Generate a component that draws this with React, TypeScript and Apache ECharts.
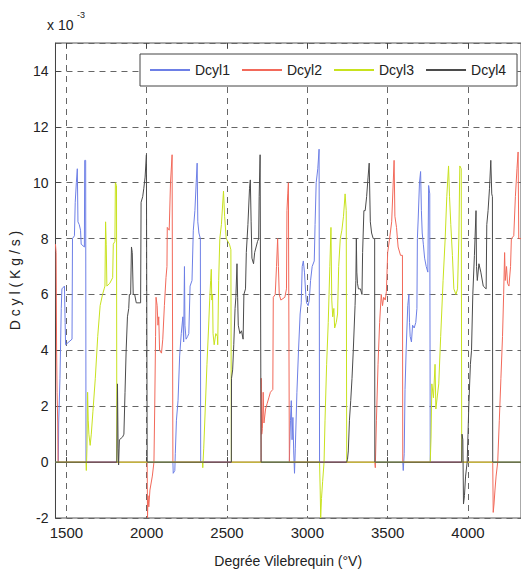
import React, { useEffect, useRef } from "react";
import * as echarts from "echarts";

const X_MIN = 1432;
const X_MAX = 4330;
const xTicks = [1500, 2000, 2500, 3000, 3500, 4000];
const seriesNames = ["Dcyl1", "Dcyl2", "Dcyl3", "Dcyl4"];

// Dcyl1 (blue)
const dcyl1A: number[][] = [[1432,0],[1450,0],[1452,1.4],[1460,3.0],[1468,5.5],[1472,6.2],[1488,6.3],[1492,5.0],[1495,4.2],[1535,4.4],[1538,8.0],[1550,8.1],[1555,9.3],[1562,10.0],[1568,10.5],[1572,8.6],[1580,8.5],[1588,8.3],[1592,7.8],[1612,7.7],[1614,10.8],[1620,10.8],[1622,0]];
const dcyl1B: number[][] = [[2163,0],[2165,-0.4],[2175,-0.3],[2178,0.3],[2185,1.5],[2195,2.2],[2205,3.8],[2215,4.6],[2225,5.2],[2230,4.3],[2235,7.0],[2238,4.9],[2245,4.4],[2255,4.5],[2262,4.6],[2270,6.3],[2282,6.5],[2290,8.3],[2300,9.0],[2308,10.0],[2314,10.7],[2318,8.6],[2325,8.2],[2334,8.0],[2336,0]];
const dcyl1C: number[][] = [[2888,0],[2890,0.5],[2895,1.5],[2900,2.2],[2905,0.8],[2910,1.6],[2915,0.4],[2920,-0.4],[2925,0.5],[2935,2.5],[2945,4.0],[2955,5.3],[2962,5.7],[2968,7.0],[2975,7.2],[2982,6.8],[2990,6.0],[2995,5.7],[3005,5.6],[3012,5.8],[3020,6.5],[3030,7.0],[3043,7.2],[3048,8.5],[3055,10.0],[3065,10.5],[3073,11.2],[3076,0]];
const dcyl1D: number[][] = [[3594,0],[3597,-0.3],[3603,0.3],[3608,2.6],[3615,4.0],[3625,5.6],[3632,6.0],[3636,5.0],[3640,4.5],[3648,4.3],[3655,4.9],[3665,4.8],[3675,5.0],[3682,5.5],[3685,8.0],[3690,8.7],[3698,10.0],[3705,10.4],[3710,9.0],[3715,8.2],[3722,7.8],[3730,7.3],[3740,7.0],[3750,6.8],[3755,9.9],[3762,9.6],[3765,0],[4330,0]];

// Dcyl2 (red)
const dcyl2A: number[][] = [[1432,7.8],[1436,7.5],[1439,4.0],[1442,2.5],[1446,1.4],[1448,0]];
const dcyl2B: number[][] = [[2003,0],[2005,-2.0],[2008,-1.2],[2013,-1.6],[2020,-1.0],[2035,-0.5],[2045,0],[2050,2.0],[2055,4.5],[2058,5.9],[2065,5.6],[2070,4.9],[2075,5.2],[2080,4.0],[2092,3.9],[2100,4.4],[2110,5.6],[2120,6.6],[2126,7.0],[2128,8.4],[2140,8.3],[2148,10.0],[2158,11.0],[2162,11.0],[2163,0]];
const dcyl2C: number[][] = [[2712,0],[2713,3.0],[2716,1.0],[2720,1.2],[2725,2.5],[2730,1.4],[2740,1.9],[2750,2.1],[2760,2.3],[2770,2.5],[2785,2.6],[2788,5.9],[2800,6.0],[2808,7.0],[2815,8.0],[2820,7.0],[2825,6.0],[2835,5.8],[2860,5.9],[2870,6.2],[2873,9.0],[2878,9.6],[2882,10.0],[2886,10.0],[2888,0]];
const dcyl2D: number[][] = [[3420,0],[3423,-0.2],[3430,1.5],[3440,3.5],[3450,5.0],[3460,6.0],[3468,5.6],[3475,5.9],[3485,5.8],[3492,6.1],[3500,7.5],[3512,8.0],[3525,8.6],[3540,10.8],[3545,8.8],[3555,8.4],[3565,7.7],[3580,7.4],[3592,7.4],[3594,0]];
const dcyl2E: number[][] = [[4154,0],[4157,-1.8],[4162,-1.5],[4168,-1.0],[4175,-0.5],[4185,0],[4195,1.5],[4205,3.0],[4215,4.5],[4222,6.0],[4228,7.5],[4232,6.5],[4240,7.0],[4246,6.4],[4255,6.3],[4265,7.0],[4270,8.0],[4285,8.1],[4295,9.5],[4305,10.5],[4312,11.1],[4316,8.0],[4330,8.0]];

// Dcyl3 (yellow-green)
const dcyl3A: number[][] = [[1432,0],[1622,0],[1624,-0.3],[1628,0.5],[1632,2.5],[1636,1.5],[1640,1.0],[1648,0.6],[1655,1.0],[1665,1.8],[1680,3.0],[1695,4.5],[1710,5.6],[1725,6.0],[1735,6.2],[1740,6.3],[1744,8.6],[1748,7.8],[1752,6.3],[1770,6.4],[1788,6.6],[1792,7.8],[1802,7.9],[1805,10.0],[1812,9.9],[1814,0]];
const dcyl3B: number[][] = [[2347,0],[2349,-0.2],[2355,0.5],[2365,2.0],[2375,3.5],[2385,4.8],[2392,5.8],[2398,6.5],[2402,6.9],[2405,5.8],[2410,6.0],[2413,4.6],[2420,4.2],[2430,4.6],[2440,4.5],[2442,4.2],[2448,6.5],[2455,8.0],[2465,8.5],[2478,9.7],[2485,8.8],[2495,8.0],[2515,7.8],[2524,7.6],[2527,0]];
const dcyl3C: number[][] = [[3076,0],[3080,-1.0],[3083,-2.0],[3088,-1.3],[3095,-0.7],[3104,0],[3110,1.5],[3120,3.5],[3130,5.0],[3135,6.0],[3140,7.0],[3147,8.4],[3152,5.8],[3158,5.2],[3165,5.5],[3170,4.8],[3180,5.0],[3188,5.3],[3195,7.0],[3205,8.0],[3215,8.3],[3225,8.8],[3235,9.6],[3242,9.0],[3245,0]];
const dcyl3D: number[][] = [[3765,0],[3770,0.9],[3775,2.8],[3785,2.3],[3795,3.5],[3800,1.9],[3810,2.4],[3818,2.8],[3830,4.5],[3845,6.5],[3858,8.0],[3868,9.5],[3879,10.6],[3885,9.5],[3893,8.5],[3903,7.4],[3912,6.2],[3925,6.0],[3935,6.2],[3943,8.0],[3949,10.6],[3958,10.5],[3961,0],[4330,0]];

// Dcyl4 (dark gray)
const dcyl4A: number[][] = [[1432,0],[1814,0],[1816,0],[1818,2.8],[1822,0.5],[1825,-0.1],[1830,0.8],[1850,0.9],[1858,1.0],[1865,2.5],[1872,4.0],[1880,5.2],[1888,5.5],[1892,6.0],[1900,6.0],[1905,7.7],[1910,7.5],[1916,6.0],[1925,6.0],[1935,5.7],[1962,5.7],[1965,9.3],[1975,9.5],[1982,9.8],[1990,10.2],[1998,11.0],[2002,11.0],[2003,0]];
const dcyl4B: number[][] = [[2527,0],[2528,3.0],[2535,3.3],[2542,4.2],[2550,5.5],[2555,5.9],[2562,7.1],[2566,5.9],[2570,4.9],[2580,4.6],[2590,4.7],[2600,4.4],[2605,6.0],[2615,6.2],[2620,7.5],[2630,8.5],[2640,9.8],[2645,10.1],[2650,8.6],[2655,7.3],[2665,7.1],[2672,7.5],[2690,7.9],[2697,8.0],[2700,9.5],[2706,11.0],[2710,11.0],[2712,0]];
const dcyl4C: number[][] = [[3245,0],[3250,0.1],[3255,0.4],[3262,1.5],[3270,2.2],[3278,3.0],[3286,4.0],[3297,5.6],[3302,6.5],[3305,8.0],[3308,6.8],[3312,6.4],[3318,6.2],[3330,6.2],[3340,6.0],[3344,7.5],[3352,9.0],[3360,9.0],[3369,9.5],[3378,10.2],[3385,10.7],[3392,8.6],[3400,8.2],[3410,8.0],[3419,8.0],[3420,0]];
const dcyl4D: number[][] = [[3961,0],[3963,1.0],[3968,0.8],[3972,-1.5],[3978,-1.2],[3985,-0.5],[3995,0],[4000,1.0],[4005,2.0],[4015,3.5],[4022,4.0],[4030,6.0],[4040,7.4],[4050,9.0],[4053,7.0],[4058,6.5],[4068,7.1],[4080,6.8],[4095,6.3],[4113,6.2],[4117,8.5],[4125,9.0],[4134,9.8],[4142,10.8],[4148,9.6],[4152,9.5],[4154,0],[4330,0]];

const dcyl1 = [...dcyl1A, ...dcyl1B, ...dcyl1C, ...dcyl1D];
const dcyl2 = [...dcyl2A, ...dcyl2B, ...dcyl2C, ...dcyl2D, ...dcyl2E];
const dcyl3 = [...dcyl3A, ...dcyl3B, ...dcyl3C, ...dcyl3D];
const dcyl4 = [...dcyl4A, ...dcyl4B, ...dcyl4C, ...dcyl4D];

const colors = ["#6d7fe6", "#f2695a", "#c8e21e", "#4b4b4b"];
const FONT = "Liberation Sans";

export default function App() {
  const ref = useRef<HTMLDivElement>(null);
  useEffect(() => {
    if (!ref.current) return;
    const chart = echarts.init(ref.current, undefined, { renderer: "svg" });
    const dataSets = [dcyl1, dcyl2, dcyl3, dcyl4];
    chart.setOption({
      animation: false,
      backgroundColor: "#ffffff",
      textStyle: { fontFamily: FONT },
      grid: { left: 50, top: 43, right: 0, bottom: 46, show: true, borderColor: "#555", borderWidth: 1, containLabel: false },
      legend: {
        left: 140,
        top: 54,
        padding: [9, 11, 9, 9],
        itemWidth: 40,
        itemHeight: 10,
        itemGap: 11,
        backgroundColor: "#ffffff",
        borderColor: "#444",
        borderWidth: 1,
        data: seriesNames,
        itemStyle: { opacity: 0 },
        textStyle: { fontSize: 14, color: "#222", fontFamily: FONT },
      },
      xAxis: [
        {
          type: "value",
          min: X_MIN,
          max: X_MAX,
          name: "Degrée Vilebrequin (°V)",
          nameLocation: "middle",
          nameGap: 36,
          nameTextStyle: { fontSize: 14, color: "#222", fontFamily: FONT },
          axisLine: { show: true, lineStyle: { color: "#444" } },
          axisTick: { show: true, inside: true, length: 5, customValues: xTicks, lineStyle: { color: "#444" } },
          axisLabel: { show: true, customValues: xTicks, fontSize: 15, color: "#222", margin: 7, fontFamily: FONT, formatter: (v: number) => String(v) },
          splitLine: { show: true, lineStyle: { color: "#666", type: [6, 5], width: 1 } },
        },
        {
          type: "value",
          position: "top",
          min: X_MIN,
          max: X_MAX,
          axisLine: { show: false },
          axisTick: { show: true, inside: true, length: 5, customValues: xTicks, lineStyle: { color: "#444" } },
          axisLabel: { show: false },
          splitLine: { show: false },
        },
      ],
      yAxis: {
        type: "value",
        min: -2,
        max: 15,
        interval: 2,
        name: "D c y l ( K g / s )",
        nameLocation: "middle",
        nameGap: 24,
        nameTextStyle: { fontSize: 14, color: "#222", fontFamily: FONT },
        axisLine: { show: true, lineStyle: { color: "#444" } },
        axisTick: { show: true, inside: true, length: 5, lineStyle: { color: "#444" } },
        axisLabel: { fontSize: 14, color: "#222", margin: 7, showMaxLabel: false, fontFamily: FONT },
        splitLine: { show: true, lineStyle: { color: "#666", type: [6, 5], width: 1 } },
      },
      graphic: [
        { type: "text", left: 47, top: 18, style: { text: "x 10", fontSize: 14, fill: "#222", fontFamily: FONT } },
        { type: "text", left: 77, top: 10, style: { text: "-3", fontSize: 9, fill: "#222", fontFamily: FONT } },
      ],
      series: seriesNames.map((n, i) => ({
        name: n,
        type: "line",
        xAxisIndex: 0,
        data: dataSets[i],
        symbol: "none",
        showSymbol: false,
        lineStyle: { width: 1, color: colors[i] },
        itemStyle: { color: colors[i] },
      })),
    });
    return () => chart.dispose();
  }, []);
  return <div ref={ref} style={{ position: "fixed", left: 0, top: 0, width: 521, height: 573 }} />;
}
